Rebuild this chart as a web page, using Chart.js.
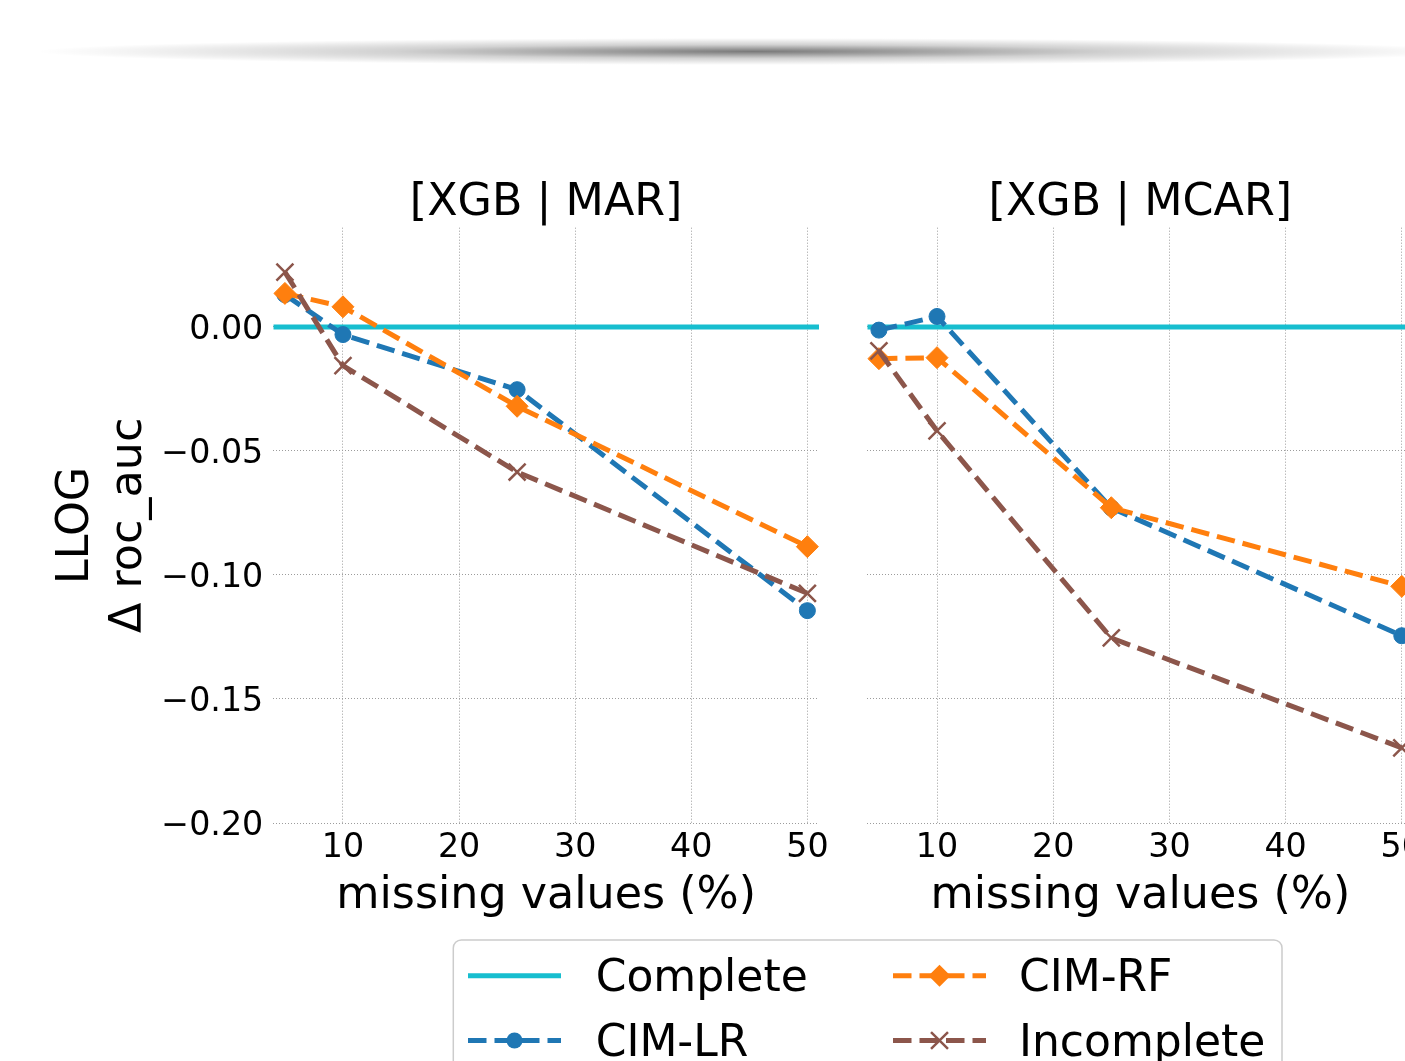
<!DOCTYPE html>
<html><head><meta charset="utf-8">
<script src="https://cdn.jsdelivr.net/npm/chart.js@4.4.1/dist/chart.umd.min.js"></script>
<style>
html,body{margin:0;padding:0;background:#fff;width:1405px;height:1061px;overflow:hidden;}
body{position:relative;font-family:'DejaVu Sans',sans-serif;}
#shadow{position:absolute;left:36px;top:38px;width:1434px;height:27px;
  background:radial-gradient(closest-side, rgba(0,0,0,0.52) 0%, rgba(0,0,0,0.18) 50%, rgba(0,0,0,0) 100%);}
canvas{position:absolute;}
#c1{left:0;top:100px;}
#c2{left:845px;top:100px;}
#legend{position:absolute;left:0;top:0;}
</style></head><body>
<div id="shadow"></div>
<canvas id="c1" width="845" height="850"></canvas>
<canvas id="c2" width="615" height="850"></canvas>
<svg id="legend" width="1405" height="1061" xmlns="http://www.w3.org/2000/svg"></svg>
<script>
// ---- data ----
const missingPct = [5, 10, 25, 50];
const marCimLR = [0.013, -0.0031, -0.0253, -0.1144];
const marCimRF = [0.0135, 0.0081, -0.0320, -0.0886];
const marIncomplete = [0.0221, -0.0156, -0.0585, -0.1074];
const mcarCimLR = [-0.0013, 0.0042, -0.0730, -0.1245];
const mcarCimRF = [-0.0128, -0.0124, -0.0729, -0.1046];
const mcarIncomplete = [-0.0097, -0.0419, -0.1254, -0.1697];
const completeValue = 0;
const xTickValues = [10, 20, 30, 40, 50];
const yTickValues = [-0.20, -0.15, -0.10, -0.05, 0.00];
const xLimits = [4, 51];
const yLimits = [-0.20, 0.04];
const panelTitles = ['[XGB | MAR]', '[XGB | MCAR]'];
const seriesNames = ['Complete', 'CIM-LR', 'CIM-RF', 'Incomplete'];
const xAxisTitle = 'missing values (%)';
const yAxisTitle = ['LLOG', '\u0394 roc_auc'];

// ---- styles ----
const FONT = "'DejaVu Sans', sans-serif";
const GRID = '#9c9c9c';
const LW = 5;
const DASH = [18.5, 8];
const STY = {
  'Complete':   {color:'#17becf', dash:[],   pointStyle:false,      r:0,    bw:0,   order:4},
  'CIM-LR':     {color:'#1f77b4', dash:DASH, pointStyle:'circle',   r:8,    bw:1,   order:3},
  'CIM-RF':     {color:'#ff7f0e', dash:DASH, pointStyle:'rectRot',  r:11,   bw:1,   order:2},
  'Incomplete': {color:'#8c564b', dash:DASH, pointStyle:'crossRot', r:12,   bw:2.5, order:1}
};

function makeDataset(name, xs, ys) {
  const s = STY[name];
  return {
    label: name,
    data: xs.map((x, i) => ({x: x, y: ys[i]})),
    borderColor: s.color, backgroundColor: s.color,
    borderWidth: LW, borderDash: s.dash, borderCapStyle: 'butt',
    pointStyle: s.pointStyle || 'circle', pointRadius: s.r, pointHoverRadius: s.r,
    pointBackgroundColor: s.color, pointBorderColor: s.color, pointBorderWidth: s.bw,
    order: s.order, fill: false, tension: 0
  };
}

function makeChart(canvas, title, lr, rf, inc, showY, yAxisWidth, padRight) {
  const datasets = [
    makeDataset('Complete', xLimits, [completeValue, completeValue]),
    makeDataset('CIM-LR', missingPct, lr),
    makeDataset('CIM-RF', missingPct, rf),
    makeDataset('Incomplete', missingPct, inc)
  ];
  const bigFont = {family: FONT, size: 44.4, weight: 'normal', lineHeight: 1.2};
  const tickFont = {family: FONT, size: 33.3, weight: 'normal', lineHeight: 1.2};
  return new Chart(canvas, {
    type: 'line',
    data: {datasets},
    options: {
      responsive: false, animation: false, devicePixelRatio: 1,
      events: [],
      layout: {padding: {left: 0, right: padRight, top: 0, bottom: 0}},
      plugins: {
        legend: {display: false}, tooltip: {enabled: false},
        title: {display: true, fullSize: false, text: title, color: '#000', font: bigFont,
                padding: {top: 76.4, bottom: -2}}
      },
      scales: {
        x: {
          type: 'linear', min: xLimits[0], max: xLimits[1],
          afterBuildTicks: s => { s.ticks = xTickValues.map(v => ({value: v})); },
          afterFit: s => { s.height = 127; },
          grid: {color: GRID, lineWidth: 1, drawTicks: false},
          border: {display: false, dash: [1, 2]},
          ticks: {color: '#000', font: tickFont, padding: 5, maxRotation: 0, autoSkip: false,
                  callback: v => String(v)},
          title: {display: true, text: xAxisTitle, color: '#000', font: bigFont,
                  padding: {top: 0, bottom: 26.4}}
        },
        y: {
          type: 'linear', min: yLimits[0], max: yLimits[1],
          afterBuildTicks: s => { s.ticks = yTickValues.map(v => ({value: v})); },
          afterFit: s => { s.width = yAxisWidth; },
          grid: {color: GRID, lineWidth: 1, drawTicks: false},
          border: {display: false, dash: [1, 2]},
          ticks: {display: showY, color: '#000', font: tickFont, padding: 10, labelOffset: 3,
                  callback: v => (v < -1e-9 ? '\u2212' : '') + Math.abs(v).toFixed(2)},
          title: {display: showY, text: yAxisTitle, color: '#000', font: bigFont,
                  padding: {top: 49.9, bottom: 0}}
        }
      }
    }
  });
}

makeChart(document.getElementById('c1'), panelTitles[0], marCimLR, marCimRF, marIncomplete, true, 273.3, 26);
makeChart(document.getElementById('c2'), panelTitles[1], mcarCimLR, mcarCimRF, mcarIncomplete, false, 22.3, 46.6);

// ---- legend (SVG) ----
(function buildLegend() {
  const NS = 'http://www.w3.org/2000/svg';
  const svg = document.getElementById('legend');
  function el(tag, attrs, text) {
    const e = document.createElementNS(NS, tag);
    for (const k in attrs) e.setAttribute(k, attrs[k]);
    if (text !== undefined) e.textContent = text;
    svg.appendChild(e);
    return e;
  }
  el('rect', {x: 453.3, y: 940, width: 828.7, height: 200, rx: 8, ry: 8,
              fill: '#ffffff', 'fill-opacity': 0.85, stroke: '#cccccc', 'stroke-width': 1.5});
  const slots = [
    {hx: 468, cy: 975.7, tx: 595.7, tb: 991},
    {hx: 468, cy: 1040.5, tx: 595.7, tb: 1056},
    {hx: 893, cy: 975.7, tx: 1019, tb: 991},
    {hx: 893, cy: 1040.5, tx: 1019, tb: 1056}
  ];
  const HL = 93;
  seriesNames.forEach((name, i) => {
    const s = STY[name], p = slots[i];
    el('line', {x1: p.hx, y1: p.cy, x2: p.hx + HL, y2: p.cy, stroke: s.color, 'stroke-width': LW,
                'stroke-dasharray': s.dash.length ? s.dash.join(' ') : 'none'});
    const mx = p.hx + HL / 2, my = p.cy;
    if (s.pointStyle === 'circle') {
      el('circle', {cx: mx, cy: my, r: s.r, fill: s.color});
    } else if (s.pointStyle === 'rectRot') {
      const r = s.r;
      el('polygon', {points: `${mx-r},${my} ${mx},${my-r} ${mx+r},${my} ${mx},${my+r}`, fill: s.color});
    } else if (s.pointStyle === 'crossRot') {
      const a = s.r * Math.SQRT1_2;
      el('path', {d: `M${mx-a},${my-a} L${mx+a},${my+a} M${mx-a},${my+a} L${mx+a},${my-a}`,
                  stroke: s.color, 'stroke-width': s.bw, fill: 'none'});
    }
    el('text', {x: p.tx, y: p.tb, 'font-family': FONT, 'font-size': 44, fill: '#000'}, name);
  });
})();
</script>
</body></html>
